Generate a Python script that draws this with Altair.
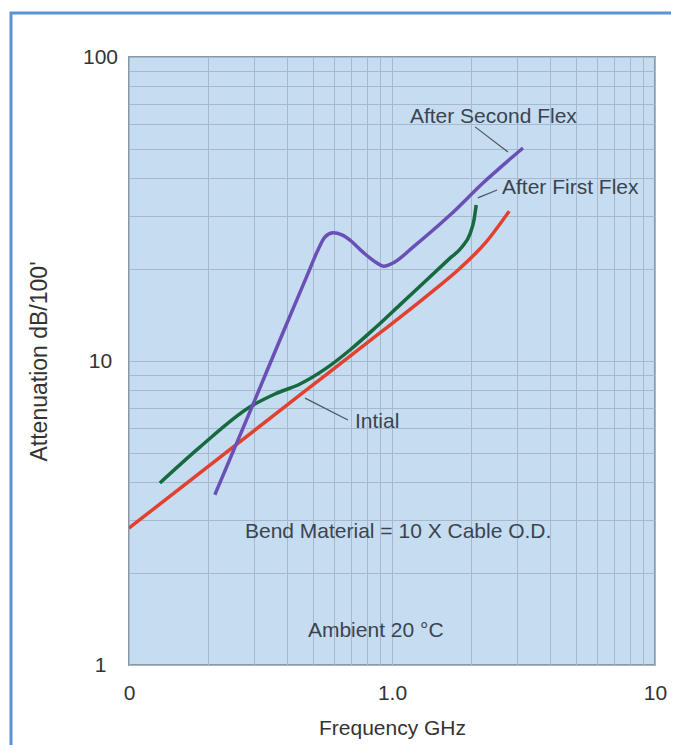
import altair as alt
import pandas as pd

# ---- data (frequency GHz, attenuation dB/100') ----
initial_f = [0.1, 0.447, 0.925, 1.395, 1.814, 2.26, 2.79]
initial_a = [2.82, 7.73, 12.6, 16.7, 20.2, 24.4, 31.1]

first_f = [0.131, 0.186, 0.288, 0.359, 0.447, 0.556, 0.692, 0.862, 1.072, 1.662, 1.845, 1.98, 2.05, 2.09]
first_a = [3.97, 5.21, 7.06, 7.79, 8.40, 9.40, 10.87, 12.84, 15.3, 21.8, 23.7, 26.2, 29.1, 32.6]

second_f = [0.212, 0.286, 0.388, 0.478, 0.523, 0.556, 0.597, 0.645, 0.692, 0.776, 0.862, 0.932, 1.009, 1.202, 1.662, 2.218, 3.148]
second_a = [3.63, 6.70, 12.6, 19.3, 23.2, 25.6, 26.4, 26.0, 25.0, 22.8, 21.2, 20.5, 21.0, 23.7, 30.2, 38.5, 50.2]

series_names = ["Initial", "After First Flex", "After Second Flex"]
series_colors = ["#e2412f", "#17693f", "#6a50b6"]

x_grid = [0.1, 0.2, 0.3, 0.4, 0.5, 0.6, 0.7, 0.8, 0.9,
          1, 2, 3, 4, 5, 6, 7, 8, 9, 10]
y_grid = [1, 2, 3, 4, 5, 6, 7, 8, 9,
          10, 20, 30, 40, 50, 60, 70, 80, 90, 100]

# annotation texts (left-aligned) and leader lines
note_text = ["After Second Flex", "After First Flex", "Intial",
             "Bend Material = 10 X Cable O.D.", "Ambient 20 °C"]
note_f = [1.17, 2.62, 0.723, 0.276, 0.479]
note_a = [63.5, 37.1, 6.30, 2.74, 1.29]

leader_f1 = [2.07, 2.12, 0.467]
leader_a1 = [58.9, 34.4, 7.55]
leader_f2 = [2.76, 2.51, 0.680]
leader_a2 = [48.7, 36.5, 6.40]

# ---- tables ----
rows = []
for name, fs, As in zip(series_names, [initial_f, first_f, second_f],
                        [initial_a, first_a, second_a]):
    for i, (f, a) in enumerate(zip(fs, As)):
        rows.append({"series": name, "f": f, "a": a, "order": i})
lines_df = pd.DataFrame(rows)
notes_df = pd.DataFrame({"text": note_text, "f": note_f, "a": note_a})
leaders_df = pd.DataFrame({"f1": leader_f1, "a1": leader_a1,
                           "f2": leader_f2, "a2": leader_a2})

FONT = "Liberation Sans"
W, H = 526, 608

xscale = alt.Scale(type="log", domain=[0.1, 10], nice=False)
yscale = alt.Scale(type="log", domain=[1, 100], nice=False)

x_axis = alt.Axis(
    values=x_grid,
    labelExpr="datum.value == 0.1 ? '0' : datum.value == 1 ? '1.0' : datum.value == 10 ? '10' : ''",
    title="Frequency GHz",
    ticks=False, tickSize=0, domain=False, grid=True,
    gridColor="#a4b9cd", gridWidth=1,
    labelFont=FONT, labelFontSize=21, labelColor="#333333",
    labelBaseline="middle", labelPadding=28, labelFlush=False, labelOverlap=False,
    titleFont=FONT, titleFontSize=21, titleFontWeight="normal", titleColor="#333333",
    titleBaseline="middle", titleY=63,
)
y_axis = alt.Axis(
    values=y_grid,
    labelExpr="datum.value == 1 ? '1' : datum.value == 10 ? '10' : datum.value == 100 ? '100' : ''",
    title="Attenuation dB/100'",
    ticks=False, tickSize=0, domain=False, grid=True,
    gridColor="#a4b9cd", gridWidth=1,
    labelFont=FONT, labelFontSize=21, labelColor="#333333",
    labelAlign="center", labelBaseline="middle", labelPadding=29,
    labelFlush=False, labelOverlap=False,
    titleFont=FONT, titleFontSize=23, titleFontWeight="normal", titleColor="#333333",
    titleAngle=270, titleBaseline="middle", titleAlign="center",
    titleX=-90, titleY=H / 2,
)

lines = alt.Chart(lines_df).mark_line(
    strokeWidth=3.5, interpolate="monotone", clip=True
).encode(
    x=alt.X("f:Q", scale=xscale, axis=x_axis),
    y=alt.Y("a:Q", scale=yscale, axis=y_axis),
    color=alt.Color("series:N", scale=alt.Scale(domain=series_names, range=series_colors), legend=None),
    order="order:Q",
    detail="series:N",
)

leaders = alt.Chart(leaders_df).mark_rule(color="#4a5560", strokeWidth=1.2).encode(
    x=alt.X("f1:Q", scale=xscale), y=alt.Y("a1:Q", scale=yscale),
    x2="f2:Q", y2="a2:Q",
)

notes = alt.Chart(notes_df).mark_text(
    align="left", baseline="middle", font=FONT, fontSize=21, color="#3a4450"
).encode(
    x=alt.X("f:Q", scale=xscale), y=alt.Y("a:Q", scale=yscale), text="text:N",
)

frame = alt.Chart(pd.DataFrame({"k": [0]})).mark_rect(
    fillOpacity=0, stroke="#5a92d6", strokeWidth=3
).encode(
    x=alt.value(-118), x2=alt.value(W + 60),
    y=alt.value(-44), y2=alt.value(H + 150),
)

chart = alt.layer(lines, leaders, notes, frame).properties(
    width=W, height=H,
    autosize=alt.AutoSizeParams(type="none"),
    padding={"left": 121, "top": 49, "right": 16, "bottom": 80},
    background="white",
).configure_view(
    fill="#c6dcf1", stroke="#8a98a6", strokeWidth=2
)

chart.save("out.html", embed_options={"renderer": "svg", "actions": False})
